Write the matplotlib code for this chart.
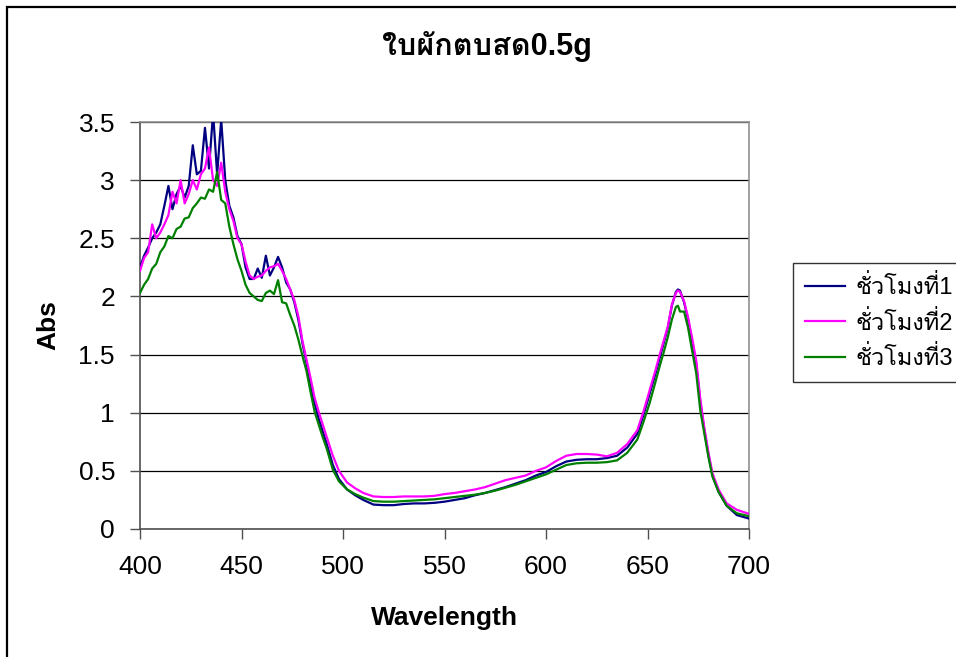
import matplotlib
matplotlib.use("Agg")
import matplotlib.pyplot as plt
from matplotlib import font_manager, ft2font
from matplotlib.patches import Rectangle
from matplotlib.lines import Line2D


def find_thai_family():
    # pick the first installed font that has Thai glyphs
    for f in font_manager.fontManager.ttflist:
        try:
            font = ft2font.FT2Font(f.fname)
            if font.get_char_index(ord("ก")) and font.get_char_index(ord("ั")):
                return f.name
        except Exception:
            pass
    return None


thai = find_thai_family()
families = ["Liberation Sans"]
if thai:
    families.append(thai)
families.append("DejaVu Sans")
plt.rcParams["font.family"] = families

title = "ใบผักตบสด0.5g"
series_names = ["ชั่วโมงที่1", "ชั่วโมงที่2", "ชั่วโมงที่3"]

wavelength = [
    400, 402, 404, 406, 408, 410, 412, 414, 416, 418, 420, 422, 424, 426,
    428, 430, 432, 434, 436, 438, 440, 442, 444, 446, 448, 450, 452, 454,
    456, 458, 460, 462, 464, 466, 468, 470, 472, 474, 476, 478, 480,
    482, 484, 486, 488, 490, 492, 495, 498, 502, 506, 510,
    515, 520, 525, 530, 535, 540, 545, 550, 555, 560, 565, 570, 575, 580,
    585, 590, 595, 600, 605, 610, 615, 620, 625, 630, 635, 640,
    645, 648, 651, 654, 656, 658, 660, 662, 664, 665, 666, 668, 670, 672,
    674, 676, 678, 680, 682, 685, 689, 694, 700,
]

hour1 = [
    2.25, 2.35, 2.42, 2.50, 2.55, 2.62, 2.78, 2.95, 2.75, 2.88, 2.95, 2.85, 2.95, 3.30,
    3.05, 3.08, 3.45, 3.10, 3.58, 3.05, 3.52, 3.00, 2.78, 2.68, 2.52, 2.45, 2.25, 2.15,
    2.15, 2.24, 2.16, 2.35, 2.18, 2.25, 2.34, 2.25, 2.12, 2.06, 1.95, 1.80, 1.60,
    1.43, 1.25, 1.08, 0.95, 0.84, 0.73, 0.55, 0.43, 0.34, 0.29, 0.25,
    0.21, 0.205, 0.205, 0.215, 0.22, 0.22, 0.225, 0.235, 0.25, 0.265, 0.29, 0.31, 0.335, 0.36,
    0.39, 0.42, 0.46, 0.49, 0.54, 0.58, 0.595, 0.60, 0.60, 0.61, 0.63, 0.70,
    0.82, 0.98, 1.16, 1.34, 1.47, 1.60, 1.73, 1.92, 2.04, 2.06, 2.05, 1.95, 1.80, 1.61,
    1.42, 1.09, 0.85, 0.64, 0.46, 0.32, 0.20, 0.12, 0.09,
]

hour2 = [
    2.22, 2.33, 2.38, 2.62, 2.50, 2.55, 2.62, 2.70, 2.90, 2.80, 3.00, 2.80, 2.88, 3.00,
    2.92, 3.05, 3.10, 3.28, 3.00, 2.95, 3.15, 2.90, 2.75, 2.65, 2.50, 2.45, 2.30, 2.18,
    2.15, 2.17, 2.18, 2.22, 2.25, 2.26, 2.28, 2.22, 2.15, 2.06, 1.97, 1.83, 1.62,
    1.46, 1.30, 1.13, 1.01, 0.90, 0.79, 0.63, 0.50, 0.40, 0.35, 0.31,
    0.28, 0.275, 0.275, 0.28, 0.28, 0.28, 0.285, 0.30, 0.31, 0.325, 0.34, 0.36, 0.39, 0.42,
    0.44, 0.46, 0.50, 0.53, 0.585, 0.63, 0.645, 0.645, 0.64, 0.625, 0.655, 0.73,
    0.85, 1.01, 1.19, 1.37, 1.50, 1.62, 1.74, 1.93, 2.03, 2.05, 2.04, 1.96, 1.82, 1.64,
    1.45, 1.12, 0.87, 0.66, 0.48, 0.34, 0.22, 0.165, 0.13,
]

hour3 = [
    2.03, 2.10, 2.15, 2.24, 2.28, 2.38, 2.43, 2.52, 2.50, 2.58, 2.60, 2.67, 2.68, 2.76,
    2.80, 2.85, 2.84, 2.92, 2.90, 3.07, 2.83, 2.80, 2.60, 2.45, 2.32, 2.22, 2.10, 2.03,
    2.00, 1.97, 1.96, 2.03, 2.05, 2.02, 2.14, 1.95, 1.94, 1.84, 1.75, 1.63, 1.49,
    1.36, 1.18, 1.01, 0.90, 0.79, 0.69, 0.51, 0.41, 0.34, 0.30, 0.27,
    0.24, 0.235, 0.235, 0.24, 0.245, 0.25, 0.255, 0.265, 0.275, 0.285, 0.295, 0.31, 0.33, 0.355,
    0.38, 0.41, 0.44, 0.47, 0.51, 0.55, 0.565, 0.57, 0.57, 0.575, 0.59, 0.655,
    0.77, 0.92, 1.08, 1.27, 1.40, 1.52, 1.65, 1.80, 1.91, 1.92, 1.87, 1.87, 1.73, 1.53,
    1.34, 1.02, 0.82, 0.62, 0.45, 0.32, 0.20, 0.135, 0.11,
]

colors = ["#000080", "#FF00FF", "#008000"]
x_ticks = [400, 450, 500, 550, 600, 650, 700]
y_ticks = [0, 0.5, 1, 1.5, 2, 2.5, 3, 3.5]
y_tick_labels = ["0", "0.5", "1", "1.5", "2", "2.5", "3", "3.5"]

W, H = 956, 657
fig = plt.figure(figsize=(W / 100, H / 100), dpi=100)
ax = fig.add_axes([140 / W, 1 - 529 / H, 609 / W, 407 / H])

for y, c, name in zip([hour1, hour2, hour3], colors, series_names):
    ax.plot(wavelength, y, color=c, lw=1.6, label=name, zorder=3)

ax.set_xlim(400, 700)
ax.set_ylim(0, 3.5)
ax.set_xticks(x_ticks)
ax.set_yticks(y_ticks)
ax.set_yticklabels(y_tick_labels)
ax.yaxis.grid(True, color="black", lw=0.9)
ax.set_axisbelow(True)

for side in ["top", "right"]:
    ax.spines[side].set_color("#909090")
    ax.spines[side].set_linewidth(1.2)
for side in ["left", "bottom"]:
    ax.spines[side].set_color("#505050")
    ax.spines[side].set_linewidth(1.2)

ax.tick_params(axis="both", direction="out", length=7, width=1, color="#505050",
               labelsize=19, labelcolor="black")
ax.tick_params(axis="y", pad=11)
ax.tick_params(axis="x", pad=12)

ax.set_xlabel("Wavelength", fontsize=19, fontweight="bold", labelpad=19)
ax.set_ylabel("Abs", fontsize=19, fontweight="bold", labelpad=13)

fig.text(487 / W, 1 - 47 / H, title, fontsize=22, fontweight="bold",
         ha="center", va="center")

handles = [Line2D([], [], color=c, lw=1.6) for c in colors]
leg = fig.legend(handles, series_names, loc="upper left",
                 bbox_to_anchor=(793 / W, 1 - 263 / H), frameon=True,
                 fancybox=False, edgecolor="black", fontsize=17,
                 handlelength=1.7, handletextpad=0.45, borderpad=0.5,
                 labelspacing=0.5, borderaxespad=0)
leg.get_frame().set_linewidth(1.0)

# outer chart border, running off the right and bottom edges
fig.patches.append(Rectangle((7 / W, -0.1), 1.2, 1.1 - 7 / H,
                             transform=fig.transFigure, fill=False,
                             edgecolor="black", lw=1.6))

fig.savefig("out.png", dpi=100)
